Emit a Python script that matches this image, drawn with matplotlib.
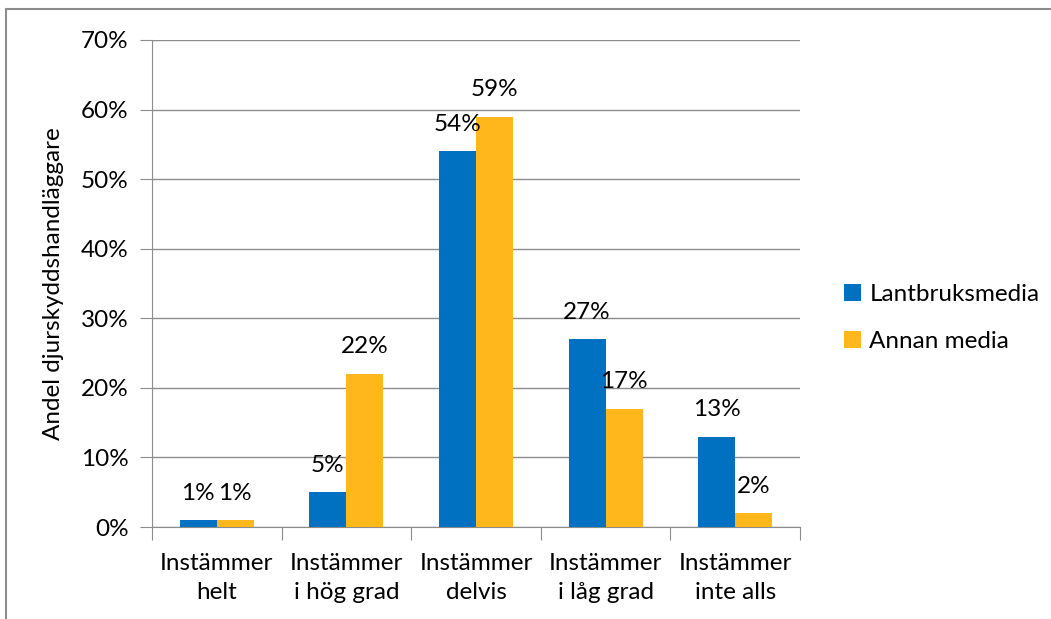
import matplotlib.pyplot as plt
import numpy as np
from matplotlib.patches import Rectangle
from matplotlib.ticker import MultipleLocator, FuncFormatter

# === DATA ===
categories = ["Instämmer\nhelt", "Instämmer\ni hög grad", "Instämmer\ndelvis",
              "Instämmer\ni låg grad", "Instämmer\ninte alls"]
series_names = ["Lantbruksmedia", "Annan media"]
lantbruk = [1, 5, 54, 27, 13]
annan = [1, 22, 59, 17, 2]
colors = ["#0070C0", "#FFB71B"]

plt.rcParams["font.family"] = ["Lato", "DejaVu Sans"]
FS = 17.5

W, H = 1051, 619
fig = plt.figure(figsize=(W / 100, H / 100), dpi=100)
ax = fig.add_axes([152 / W, 1 - 527 / H, (800 - 152) / W, (527 - 40) / H])

x = np.arange(len(categories))
bw = 0.285
for vals, name, col, off in [(lantbruk, series_names[0], colors[0], -bw / 2),
                              (annan, series_names[1], colors[1], bw / 2)]:
    bars = ax.bar(x + off, vals, bw, color=col, label=name, zorder=3)
    for b, v in zip(bars, vals):
        ax.annotate(f"{v}%", (b.get_x() + b.get_width() / 2, v),
                    xytext=(0, 27), textcoords="offset pixels",
                    ha="center", va="center", fontsize=FS, zorder=4)

ax.set_xlim(-0.5, len(categories) - 0.5)
ax.set_ylim(0, 70)
ax.yaxis.set_major_locator(MultipleLocator(10))
ax.yaxis.set_major_formatter(FuncFormatter(lambda v, p: f"{v:.0f}%"))
ax.grid(axis="y", color="#8c8c8c", lw=1, zorder=0)

# category ticks at boundaries, labels centered
ax.set_xticks(np.arange(len(categories) + 1) - 0.5)
ax.set_xticklabels([])
ax.set_xticks(x, minor=True)
ax.set_xticklabels(categories, minor=True, fontsize=FS, linespacing=1.45)
ax.tick_params(axis="x", which="minor", length=0, pad=19)
ax.tick_params(axis="x", which="major", length=9, color="#8c8c8c", direction="out")
ax.tick_params(axis="y", length=9, color="#8c8c8c", labelsize=FS, pad=8)

for s in ["top", "right"]:
    ax.spines[s].set_visible(False)
for s in ["left", "bottom"]:
    ax.spines[s].set_color("#8c8c8c")

ax.set_ylabel("Andel djurskyddshandläggare", fontsize=FS, labelpad=12)

leg = fig.legend(loc="center left", bbox_to_anchor=(822 / W, 1 - 318 / H),
                 frameon=False, fontsize=FS, handlelength=0.7, handleheight=0.7,
                 labelspacing=1.1, handletextpad=0.35)

# outer chart frame (cut off on right and bottom)
fig.patches.append(Rectangle((6 / W, -0.1), 1.1, 1 - 9 / H + 0.1,
                             transform=fig.transFigure, fill=False,
                             edgecolor="#8c8c8c", lw=1.5))

fig.savefig("out.png", dpi=100)
